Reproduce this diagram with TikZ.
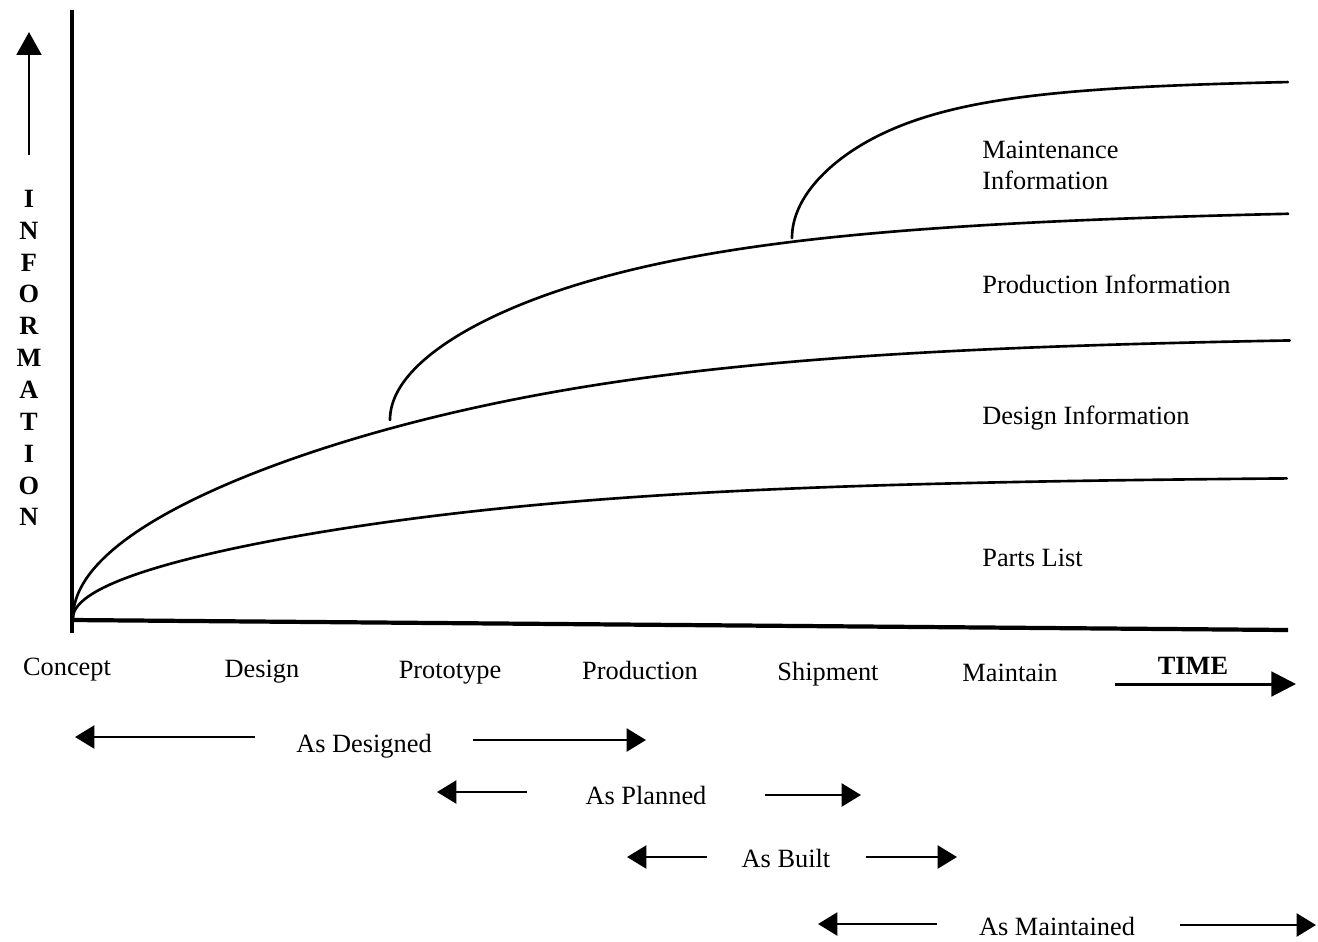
\documentclass[tikz,border=0pt]{standalone}
\usepackage{fontspec}
\setmainfont{Liberation Serif}
\usetikzlibrary{arrows.meta}
\begin{document}
\begin{tikzpicture}[x=0.02cm,y=-0.02cm,
  lbl/.style={inner sep=0pt, font=\fontsize{15}{17.6}\selectfont},
  axis/.style={line width=2.4pt},
  curve/.style={line width=1.5pt, line join=round, line cap=round},
  spanarrow/.style={line width=1.6pt, -{Triangle[length=11pt,width=13pt]}},
  bigarrow/.style={line width=1.7pt, -{Triangle[length=13pt,width=14pt]}},
]
\useasboundingbox (0,0) rectangle (1318,941);

% axes
\coordinate (O) at (72,620);
\coordinate (ytop) at (72,10);
\coordinate (ybot) at (72,633);
\coordinate (xend) at (1288,630);
\draw[axis] (ybot) -- (ytop);
\draw[axis] (O) -- (xend);

% vertical axis title
\coordinate (upS) at (29,155);
\coordinate (upT) at (29,32);
\draw[bigarrow] (upS) -- (upT);
\node[lbl, font=\fontsize{15}{18.14}\selectfont\bfseries, align=center] (info) at (29,358)
  {I\\N\\F\\O\\R\\M\\A\\T\\I\\O\\N};

% information curves: square-root growth that levels off,
% r(t) = k*sqrt(t) / (1+(t/T)^q)^(1/(2q)), sampled with t = s^2
% parts list
\draw[curve] plot[domain=0:34.84, samples=160, variable=\s]
  ({73+\s*\s}, {618-5.5*\s/(1+(\s*\s/680)^3)^(0.166667)});
% design information
\draw[curve] plot[domain=0:34.885, samples=160, variable=\s]
  ({73+\s*\s}, {618-10.8*\s/(1+(\s*\s/700)^3)^(0.166667)});
% production information
\draw[curve] plot[domain=0:29.97, samples=140, variable=\s]
  ({390+\s*\s}, {420-10.3*\s/(1+(\s*\s/448)^2)^(0.25)});
% maintenance information
\draw[curve] plot[domain=0:22.27, samples=120, variable=\s]
  ({792+\s*\s}, {238-11.5*\s/(1+(\s*\s/198)^2)^(0.25)});

% region labels
\node[lbl, align=left, anchor=west] (maint) at (982,165) {Maintenance\\Information};
\node[lbl, anchor=base west] (prod) at (982,293) {Production Information};
\node[lbl, anchor=base west] (desi) at (982,424) {Design Information};
\node[lbl, anchor=base west] (parts) at (982,566) {Parts List};

% time axis labels
\node[lbl, anchor=base] (concept) at (67,675) {Concept};
\node[lbl, anchor=base] (design) at (262,677) {Design};
\node[lbl, anchor=base] (proto) at (450,678) {Prototype};
\node[lbl, anchor=base] (production) at (640,679) {Production};
\node[lbl, anchor=base] (ship) at (828,680) {Shipment};
\node[lbl, anchor=base] (maintain) at (1010,681) {Maintain};
\node[lbl, anchor=base, font=\fontsize{15}{17.6}\selectfont\bfseries] (time) at (1193,674) {TIME};
\coordinate (timeS) at (1115,684);
\coordinate (timeT) at (1296,684);
\draw[line width=1.7pt, -{Triangle[length=14pt,width=14pt]}] (timeS) -- (timeT);

% document states
\node[lbl, anchor=base] (asdes) at (364,752) {As Designed};
\coordinate (desL0) at (255,737);
\coordinate (desL) at (75,737);
\coordinate (desR0) at (473,740);
\coordinate (desR) at (646,740);
\draw[spanarrow] (desL0) -- (desL);
\draw[spanarrow] (desR0) -- (desR);

\node[lbl, anchor=base] (asplan) at (646,804) {As Planned};
\coordinate (planL0) at (527,792);
\coordinate (planL) at (437,792);
\coordinate (planR0) at (765,795);
\coordinate (planR) at (861,795);
\draw[spanarrow] (planL0) -- (planL);
\draw[spanarrow] (planR0) -- (planR);

\node[lbl, anchor=base] (asbuilt) at (786,867) {As Built};
\coordinate (bltL0) at (707,857);
\coordinate (bltL) at (627,857);
\coordinate (bltR0) at (866,857);
\coordinate (bltR) at (957,857);
\draw[spanarrow] (bltL0) -- (bltL);
\draw[spanarrow] (bltR0) -- (bltR);

\node[lbl, anchor=base] (asmaint) at (1057,935) {As Maintained};
\coordinate (mntL0) at (937,924);
\coordinate (mntL) at (818,924);
\coordinate (mntR0) at (1180,925);
\coordinate (mntR) at (1316,925);
\draw[spanarrow] (mntL0) -- (mntL);
\draw[spanarrow] (mntR0) -- (mntR);
\end{tikzpicture}
\end{document}
